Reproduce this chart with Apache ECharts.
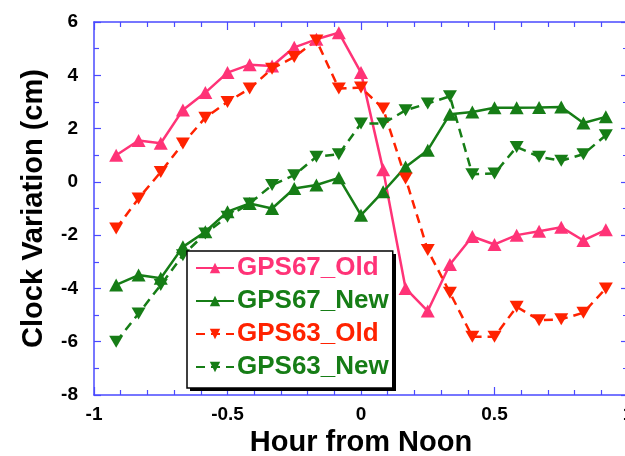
<!DOCTYPE html>
<html>
<head>
<meta charset="utf-8">
<script src="https://cdn.jsdelivr.net/npm/echarts@6/dist/echarts.min.js"></script>
<style>
html,body{margin:0;padding:0;background:#fff;}
#main{width:625px;height:456px;}
</style>
</head>
<body>
<div id="main"></div>
<script>
var hours = [-0.917, -0.833, -0.75, -0.667, -0.583, -0.5, -0.417, -0.333, -0.25, -0.167, -0.083, 0, 0.083, 0.167, 0.25, 0.333, 0.417, 0.5, 0.583, 0.667, 0.75, 0.833, 0.917];
var gps67Old = [1.0, 1.55, 1.45, 2.7, 3.35, 4.1, 4.4, 4.35, 5.05, 5.35, 5.6, 4.1, 0.45, -4.0, -4.85, -3.1, -2.05, -2.35, -2.0, -1.85, -1.7, -2.2, -1.8];
var gps67New = [-3.87, -3.5, -3.62, -2.44, -1.87, -1.12, -0.81, -1.0, -0.25, -0.12, 0.15, -1.25, -0.37, 0.56, 1.19, 2.54, 2.62, 2.78, 2.78, 2.79, 2.81, 2.21, 2.44];
var gps63Old = [-1.75, -0.62, 0.37, 1.44, 2.41, 3.0, 3.5, 4.25, 4.69, 5.31, 3.5, 3.54, 2.75, 0.13, -2.56, -4.16, -5.81, -5.81, -4.69, -5.19, -5.16, -4.91, -4.0];
var gps63New = [-6.0, -4.94, -3.87, -2.75, -1.94, -1.31, -0.81, -0.12, 0.25, 0.94, 1.04, 2.19, 2.19, 2.69, 2.94, 3.21, 0.29, 0.31, 1.31, 0.94, 0.79, 1.04, 1.75];
var seriesNames = ['GPS67_Old', 'GPS67_New', 'GPS63_Old', 'GPS63_New'];
var seriesColors = ['#ff3377', '#167d16', '#ff2200', '#167d16'];
var xTitle = 'Hour from Noon';
var yTitle = 'Clock Variation (cm)';

function pairs(vals) { return hours.map(function (h, i) { return [h, vals[i]]; }); }
var UP = 'triangle';
var DOWN = 'path://M0,0 L10,0 L5,9 Z';
var FONT = '"Liberation Sans", Arial, Helvetica, sans-serif';
var AX = '#4a4aff';

function mkSeries(idx, vals, sym, dashed) {
  return {
    name: seriesNames[idx], type: 'line', data: pairs(vals),
    symbol: sym, symbolSize: sym === UP ? [14, 13] : [14, 12],
    showSymbol: true,
    itemStyle: { color: seriesColors[idx] },
    lineStyle: { color: seriesColors[idx], width: 2.5, type: dashed ? [9, 6] : 'solid' },
    emphasis: { disabled: true }, animation: false
  };
}

var xBase = {
  type: 'value', min: -1, max: 1, interval: 0.5,
  axisLine: { onZero: false, lineStyle: { color: AX, width: 1.5 } },
  axisTick: { inside: true, length: 8, lineStyle: { color: AX, width: 1.2 } },
  minorTick: { show: true, splitNumber: 5, length: 5, lineStyle: { color: AX, width: 1.2 } },
  splitLine: { show: false }
};
var yBase = {
  type: 'value', min: -8, max: 6, interval: 2,
  axisLine: { onZero: false, lineStyle: { color: AX, width: 1.5 } },
  axisTick: { inside: true, length: 7, lineStyle: { color: AX, width: 1.2 } },
  minorTick: { show: true, splitNumber: 2, length: 5, lineStyle: { color: AX, width: 1.2 } },
  splitLine: { show: false }
};

var chart = echarts.init(document.getElementById('main'), null, { renderer: 'canvas' });
chart.setOption({
  backgroundColor: '#fff',
  animation: false,
  grid: { left: 94, width: 534, top: 22, height: 373, containLabel: false, outerBoundsMode: 'none' },
  xAxis: [
    Object.assign({}, xBase, {
      position: 'bottom',
      name: xTitle, nameLocation: 'middle', nameGap: 30,
      nameTextStyle: { fontFamily: FONT, fontWeight: 'bold', fontSize: 29, color: '#000' },
      axisLabel: { fontFamily: FONT, fontWeight: 'bold', fontSize: 19, color: '#000', margin: 10,
        formatter: function (v) { return String(v); } }
    }),
    Object.assign({}, xBase, { position: 'top', axisLabel: { show: false } })
  ],
  yAxis: [
    Object.assign({}, yBase, {
      position: 'left',
      name: yTitle, nameLocation: 'middle', nameGap: 46,
      nameTextStyle: { fontFamily: FONT, fontWeight: 'bold', fontSize: 29, color: '#000' },
      axisLabel: { fontFamily: FONT, fontWeight: 'bold', fontSize: 19, color: '#000', margin: 16 }
    }),
    Object.assign({}, yBase, { position: 'right', axisLabel: { show: false } })
  ],
  graphic: [{
    type: 'rect', z: 90, zlevel: 0, silent: true,
    shape: { x: 190, y: 254, width: 206, height: 137 },
    style: { fill: '#000', stroke: null }
  }],
  legend: {
    orient: 'vertical', left: 187, top: 251, z: 100,
    padding: [4, 4, 8, 8], itemGap: 7,
    itemWidth: 38, itemHeight: 13,
    backgroundColor: '#fff', borderColor: '#000', borderWidth: 1.5, borderRadius: 0,
    selectedMode: false,
    textStyle: { fontFamily: FONT, fontWeight: 'bold', fontSize: 26, lineHeight: 26, padding: [0, 0, 0, -2] },
    data: seriesNames.map(function (n, i) { return { name: n, textStyle: { color: seriesColors[i] } }; })
  },
  series: [
    mkSeries(0, gps67Old, UP, false),
    mkSeries(1, gps67New, UP, false),
    mkSeries(2, gps63Old, DOWN, true),
    mkSeries(3, gps63New, DOWN, true)
  ]
});
</script>
</body>
</html>
